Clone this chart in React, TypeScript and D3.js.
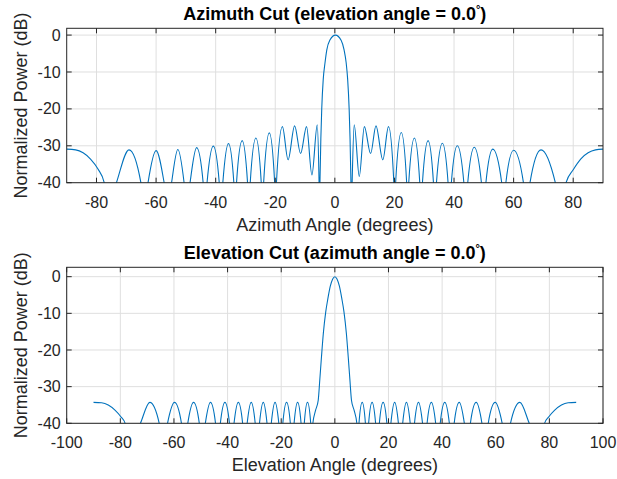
import React, { useEffect, useRef } from 'react';
import * as d3 from 'd3';

// azimuth cut: angle (deg) and normalized power (dB).
// values under -40 are the nulls, they get clipped by the axes box
const azAngle = [
  -90, -87, -84.5, -82, -79.5, -77.4, -76,
  -73.3, -69.1, -65.1, -63.9,
  -62.7, -60, -57.3, -56,
  -54.8, -52.7, -50.6, -49.7,
  -48.6, -46.4, -44.2, -43.6,
  -42.9, -40.8, -38.8, -38.2,
  -37.6, -35.7, -33.9, -33.4,
  -33, -31.1, -29.3, -28.8,
  -28.4, -26.5, -24.7, -24.3,
  -23.9, -22, -20.2, -19.9,
  -19.6, -17.6, -15.7, -13.5, -11.5, -9.5, -7.7, -5.9, -5.3, -5.15,
  -5.0, -4.7, -4.4, -3.9, -3.3, -2.7, -1.7, 0.2, 2.1, 3.1, 3.8, 4.3, 4.8, 5.1, 5.4,
  5.6, 5.8, 6.5, 8.2, 9.9, 12, 13.8, 16.1, 18, 19.8, 20.1,
  20.4, 22.3, 24.1, 24.4,
  24.8, 26.7, 28.5, 28.9,
  29.4, 31.3, 33.1, 33.6,
  34.1, 36.1, 38, 38.5,
  39.1, 41.1, 43.3, 43.9,
  44.6, 46.8, 49.2, 50,
  50.7, 53, 56, 56.7,
  57.4, 60, 63.3, 64.4,
  65.5, 69.2, 74, 75.8,
  77.6, 80, 82.5, 85, 87.5, 90,
];
const azPower = [
  -30.9, -31.1, -31.9, -33.6, -36.3, -40, -47,
  -40, -31.1, -40, -47,
  -40, -31.3, -40, -47,
  -40, -31, -40, -47,
  -40, -30.5, -40, -47,
  -40, -30.1, -40, -47,
  -40, -29.4, -40, -47,
  -40, -28.6, -40, -47,
  -40, -27.9, -40, -47,
  -40, -26.5, -40, -47,
  -40, -24.8, -33.8, -24.6, -32.1, -24.8, -37.9, -24.3, -40, -47,
  -40, -28, -20, -12, -7.5, -4, -1.4, 0, -1.4, -4, -7.5, -12, -20, -28, -40,
  -47, -40, -24.3, -38.3, -24.8, -32.1, -24.6, -33.8, -24.8, -40, -47,
  -40, -26.4, -40, -47,
  -40, -27.9, -40, -47,
  -40, -28.6, -40, -47,
  -40, -29.3, -40, -47,
  -40, -30, -40, -47,
  -40, -30.4, -40, -47,
  -40, -30.9, -40, -47,
  -40, -31.2, -40, -47,
  -40, -31.1, -40, -47,
  -40, -36.5, -33.6, -31.9, -31.1, -30.9,
];

// elevation cut
const elAngle = [
  -90, -87, -84.5, -82, -79.8, -78.2, -76.5,
  -72.5, -69, -65.5, -64,
  -62.4, -59.8, -57.2, -56.1,
  -54.85, -52.7, -50.55, -49.5,
  -48.3, -46.4, -44.5, -43.6,
  -42.7, -41, -39.3, -38.5,
  -37.6, -36, -34.4, -33.6,
  -32.7, -31.2, -29.7, -28.9,
  -28.1, -26.7, -25.3, -24.5,
  -23.7, -22.3, -20.9, -20.1,
  -19.4, -18, -16.6, -15.9,
  -15.2, -13.9, -12.6, -12,
  -11.4, -10.2, -9, -8.5,
  -8.2, -7.2, -6.2, -5.6, -5, -4.3, -3.4, -2.6, -1.7, -0.8, 0, 0.8, 1.7, 2.6, 3.4, 4.3, 5, 5.6, 6.2, 7.2, 8.2,
  8.5, 9, 10.2, 11.4,
  12, 12.6, 13.9, 15.2,
  15.9, 16.6, 18, 19.4,
  20.1, 20.9, 22.3, 23.7,
  24.5, 25.3, 26.7, 28.1,
  28.9, 29.7, 31.2, 32.7,
  33.6, 34.4, 36, 37.6,
  38.5, 39.3, 41, 42.7,
  43.6, 44.5, 46.4, 48.3,
  49.5, 50.55, 52.7, 54.85,
  56.1, 57.2, 59.8, 62.4,
  64, 65.5, 69, 72.5,
  76.5, 78.2, 79.8, 82, 84.5, 87, 90,
];
const elPower = [
  -34.3, -34.4, -35, -36.4, -38.2, -40, -47,
  -40, -34.3, -40, -47,
  -40, -34.3, -40, -47,
  -40, -34.3, -40, -47,
  -40, -34.3, -40, -47,
  -40, -34.3, -40, -47,
  -40, -34.3, -40, -47,
  -40, -34.3, -40, -47,
  -40, -34.3, -40, -47,
  -40, -34.3, -40, -47,
  -40, -34.3, -40, -47,
  -40, -34.3, -40, -47,
  -40, -34.3, -40, -47,
  -40, -36.5, -33.7, -28, -22, -15.5, -9.6, -6, -2.6, -0.6, 0, -0.6, -2.6, -6, -9.6, -15.5, -22, -28, -33.7, -36.5, -40,
  -47, -40, -34.3, -40,
  -47, -40, -34.3, -40,
  -47, -40, -34.3, -40,
  -47, -40, -34.3, -40,
  -47, -40, -34.3, -40,
  -47, -40, -34.3, -40,
  -47, -40, -34.3, -40,
  -47, -40, -34.3, -40,
  -47, -40, -34.3, -40,
  -47, -40, -34.3, -40,
  -47, -40, -34.3, -40,
  -47, -40, -34.3, -40,
  -47, -40, -38.2, -36.4, -35, -34.4, -34.3,
];

const azXTicks = [-80, -60, -40, -20, 0, 20, 40, 60, 80];
const elXTicks = [-100, -80, -60, -40, -20, 0, 20, 40, 60, 80, 100];
const powerTicks = [-40, -30, -20, -10, 0];

const FONT = '"Liberation Sans", Arial, Helvetica, sans-serif';
const AXIS_COLOR = '#262626';
const GRID_COLOR = '#dfdfdf';
const LINE_COLOR = '#0072BD';

interface CutConfig {
  id: string,
  top: number,
  bottom: number,
  left: number,
  right: number,
  xDomain: [number, number],
  yDomain: [number, number],
  xTicks: number[],
  angles: number[],
  powers: number[],
  titleStart: string,
  xLabel: string
}

function drawCut(svg: d3.Selection<SVGSVGElement, unknown, null, undefined>, cfg: CutConfig) {
  var x = d3.scaleLinear().domain(cfg.xDomain).range([cfg.left, cfg.right]);
  var y = d3.scaleLinear().domain(cfg.yDomain).range([cfg.bottom, cfg.top]);
  var tickLen = 5;

  var g = svg.append('g');

  // grid
  g.selectAll('line.xgrid')
    .data(cfg.xTicks)
    .join('line')
    .attr('x1', d => x(d)).attr('x2', d => x(d))
    .attr('y1', cfg.top).attr('y2', cfg.bottom)
    .attr('stroke', GRID_COLOR)
    .attr('stroke-width', 1);

  g.selectAll('line.ygrid')
    .data(powerTicks)
    .join('line')
    .attr('x1', cfg.left).attr('x2', cfg.right)
    .attr('y1', d => y(d)).attr('y2', d => y(d))
    .attr('stroke', GRID_COLOR)
    .attr('stroke-width', 1);

  // the pattern, clipped to the axes box
  svg.append('clipPath')
    .attr('id', cfg.id)
    .append('rect')
    .attr('x', cfg.left).attr('y', cfg.top)
    .attr('width', cfg.right - cfg.left)
    .attr('height', cfg.bottom - cfg.top);

  var pts = d3.zip(cfg.angles, cfg.powers) as [number, number][];
  var valueline = d3.line<[number, number]>()
    .x(d => x(d[0]))
    .y(d => y(d[1]))
    .curve(d3.curveMonotoneX);

  g.append('path')
    .datum(pts)
    .attr('clip-path', 'url(#' + cfg.id + ')')
    .attr('fill', 'none')
    .attr('stroke', LINE_COLOR)
    .attr('stroke-width', 1.1)
    .attr('stroke-linejoin', 'round')
    .attr('d', valueline);

  // box
  g.append('rect')
    .attr('x', cfg.left).attr('y', cfg.top)
    .attr('width', cfg.right - cfg.left)
    .attr('height', cfg.bottom - cfg.top)
    .attr('fill', 'none')
    .attr('stroke', AXIS_COLOR)
    .attr('stroke-width', 1);

  // inward ticks on all four sides
  cfg.xTicks.forEach(t => {
    g.append('line').attr('x1', x(t)).attr('x2', x(t))
      .attr('y1', cfg.bottom).attr('y2', cfg.bottom - tickLen)
      .attr('stroke', AXIS_COLOR);
    g.append('line').attr('x1', x(t)).attr('x2', x(t))
      .attr('y1', cfg.top).attr('y2', cfg.top + tickLen)
      .attr('stroke', AXIS_COLOR);
  });
  powerTicks.forEach(t => {
    g.append('line').attr('x1', cfg.left).attr('x2', cfg.left + tickLen)
      .attr('y1', y(t)).attr('y2', y(t))
      .attr('stroke', AXIS_COLOR);
    g.append('line').attr('x1', cfg.right).attr('x2', cfg.right - tickLen)
      .attr('y1', y(t)).attr('y2', y(t))
      .attr('stroke', AXIS_COLOR);
  });

  // tick labels
  g.selectAll('text.xtick')
    .data(cfg.xTicks)
    .join('text')
    .attr('x', d => x(d))
    .attr('y', cfg.bottom + 25)
    .attr('text-anchor', 'middle')
    .attr('font-size', 16)
    .attr('fill', AXIS_COLOR)
    .text(d => String(d));

  g.selectAll('text.ytick')
    .data(powerTicks)
    .join('text')
    .attr('x', cfg.left - 6)
    .attr('y', d => y(d))
    .attr('dy', '0.35em')
    .attr('text-anchor', 'end')
    .attr('font-size', 16)
    .attr('fill', AXIS_COLOR)
    .text(d => String(d));

  var cx = (cfg.left + cfg.right) / 2;
  var cy = (cfg.top + cfg.bottom) / 2;

  // title, degree sign as superscript
  var title = g.append('text')
    .attr('x', cx)
    .attr('y', cfg.top - 8)
    .attr('text-anchor', 'middle')
    .attr('font-size', 18)
    .attr('font-weight', 'bold')
    .attr('fill', '#000');
  title.append('tspan').text(cfg.titleStart);
  title.append('tspan').attr('font-size', 11).attr('dy', -7).text('°');
  title.append('tspan').attr('dy', 7).text(')');

  g.append('text')
    .attr('x', cx)
    .attr('y', cfg.bottom + 48)
    .attr('text-anchor', 'middle')
    .attr('font-size', 18)
    .attr('fill', AXIS_COLOR)
    .text(cfg.xLabel);

  g.append('text')
    .attr('transform', 'translate(27,' + cy + ') rotate(-90)')
    .attr('text-anchor', 'middle')
    .attr('font-size', 18)
    .attr('fill', AXIS_COLOR)
    .text('Normalized Power (dB)');
}

export default function App() {
  const ref = useRef<SVGSVGElement>(null);

  useEffect(() => {
    if (!ref.current) return;
    var svg = d3.select(ref.current);
    svg.selectAll('*').remove();

    drawCut(svg, {
      id: 'clip-az',
      top: 28.3, bottom: 182.7, left: 66.7, right: 603,
      xDomain: [-90, 90],
      yDomain: [-40, 1.84],
      xTicks: azXTicks,
      angles: azAngle,
      powers: azPower,
      titleStart: 'Azimuth Cut (elevation angle = 0.0',
      xLabel: 'Azimuth Angle (degrees)'
    });

    drawCut(svg, {
      id: 'clip-el',
      top: 267.3, bottom: 423.3, left: 66.7, right: 603,
      xDomain: [-100, 100],
      yDomain: [-40, 2.56],
      xTicks: elXTicks,
      angles: elAngle,
      powers: elPower,
      titleStart: 'Elevation Cut (azimuth angle = 0.0',
      xLabel: 'Elevation Angle (degrees)'
    });
  }, []);

  return (
    <svg
      ref={ref}
      width={617}
      height={479}
      style={{ position: 'absolute', left: 0, top: 0, background: '#fff', fontFamily: FONT }}
    />
  );
}
